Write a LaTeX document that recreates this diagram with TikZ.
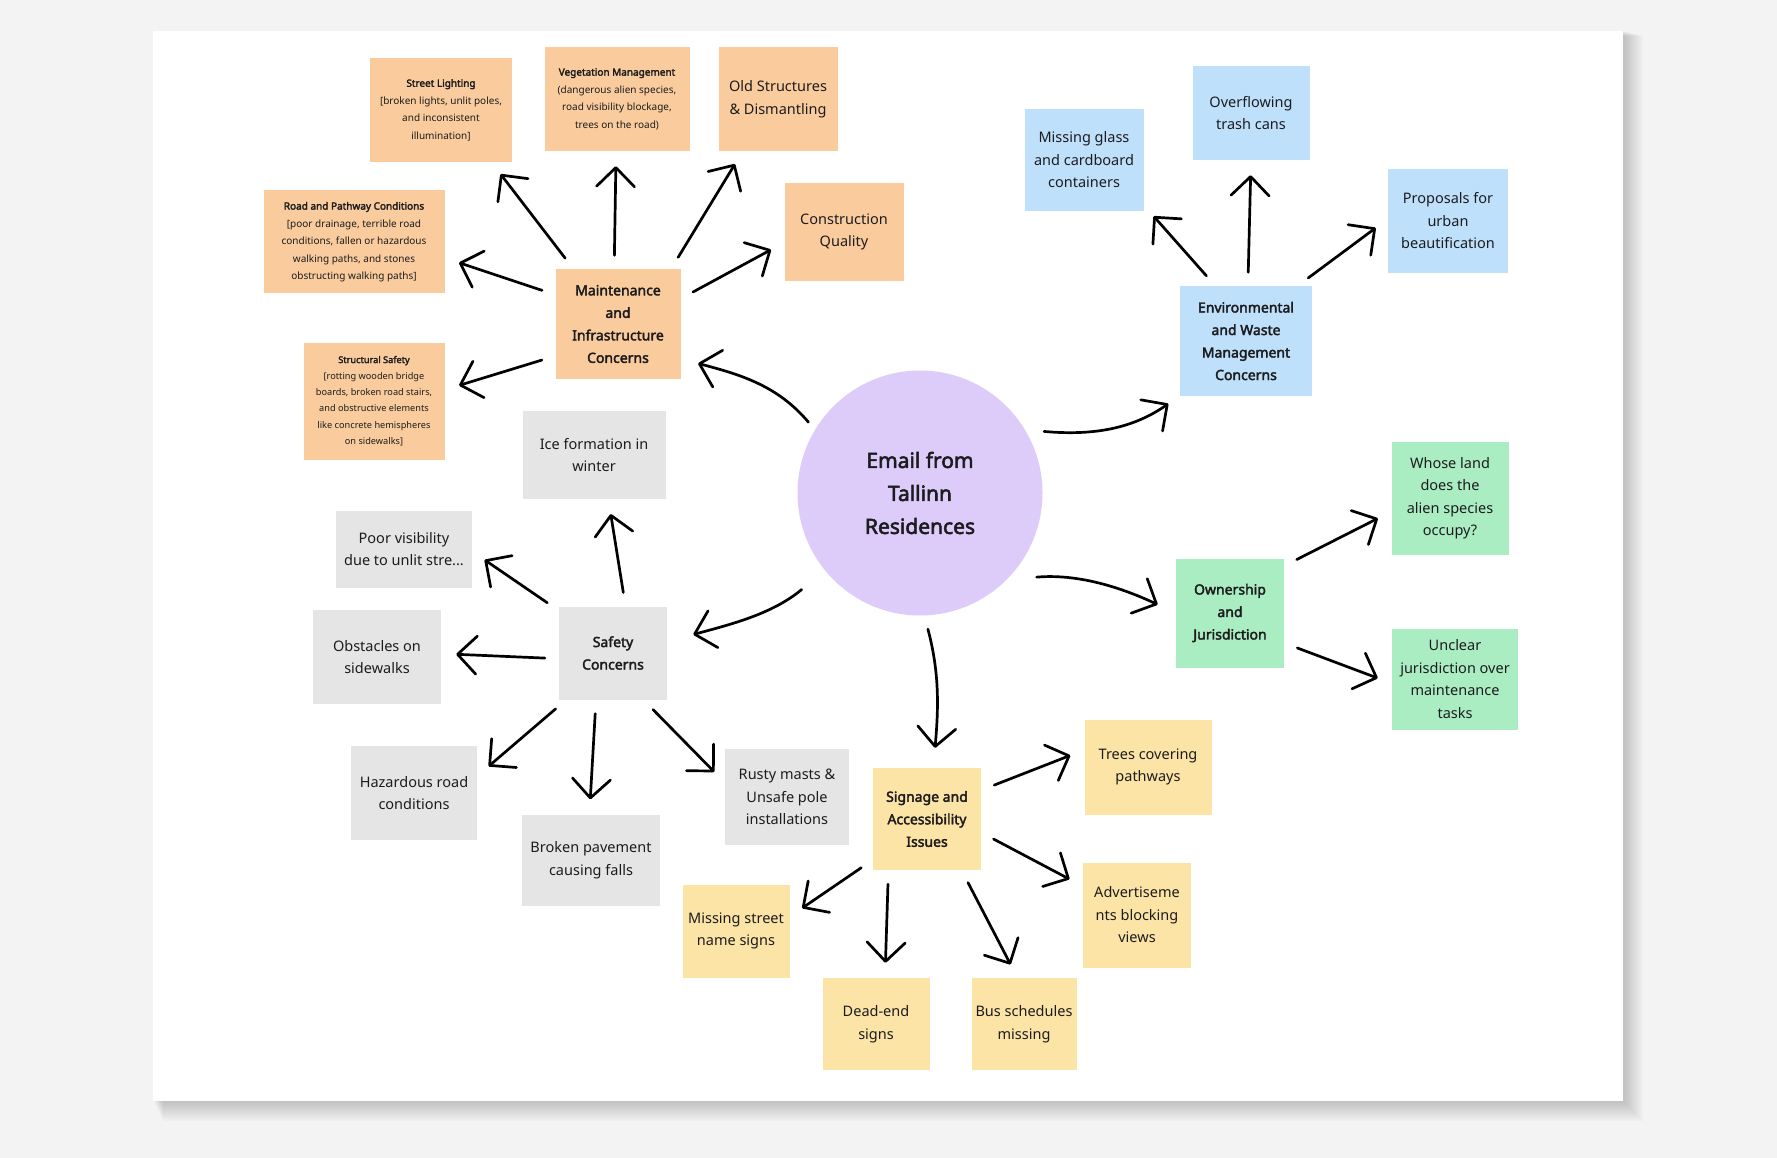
\documentclass[tikz,border=0pt]{standalone}
\usepackage{fontspec}
\setmainfont{Noto Sans}[AutoFakeBold=2.6]
\usepackage{tikz}
\usetikzlibrary{arrows.meta}

\definecolor{bgpage}{RGB}{243,243,243}
\definecolor{ink}{RGB}{28,28,30}
\definecolor{peach}{RGB}{250,204,157}
\definecolor{skyblue}{RGB}{191,224,251}
\definecolor{paleGrey}{RGB}{229,229,229}
\definecolor{butter}{RGB}{252,227,166}
\definecolor{mint}{RGB}{171,237,194}
\definecolor{lilac}{RGB}{221,204,250}

\newcommand{\leaftxt}{\fontsize{14.5}{22.5}\selectfont}
\newcommand{\headtxt}{\fontsize{14}{22.5}\selectfont\bfseries}
\newcommand{\smalltxt}{\fontsize{10}{17.5}\selectfont}
\newcommand{\tinytxt}{\fontsize{9.2}{16.3}\selectfont}
\newcommand{\mailtxt}{\fontsize{21}{33}\selectfont\bfseries}

\begin{document}
\begin{tikzpicture}[line cap=round,line join=round,>={Straight Barb[length=19pt,width=38pt,round]},x=1pt,y=1pt,
  sticky/.style={rectangle,inner sep=0pt,align=center,text=ink},
  orangenote/.style={sticky,fill=peach},
  bluenote/.style={sticky,fill=skyblue},
  greynote/.style={sticky,fill=paleGrey,font=\leaftxt},
  yellownote/.style={sticky,fill=butter,font=\leaftxt},
  greennote/.style={sticky,fill=mint,font=\leaftxt},
  arr/.style={->,draw=black,line width=2.7pt,shorten <=14pt,shorten >=15pt}]

\fill[bgpage] (0,0) rectangle (1777,-1158);
\foreach \d in {1,...,10}
  \fill[black,opacity=0.02] (153+\d,-31-0.5*\d) rectangle (1623+2*\d,-1101-2*\d);
\fill[white] (153,-31) rectangle (1623,-1101);

\node[circle,fill=lilac,minimum size=245pt,inner sep=0pt,align=center,text=ink,font=\mailtxt] (mail) at (920,-493) {Email from\\Tallinn\\Residences};

\node[orangenote,minimum width=125pt,minimum height=109pt,font=\headtxt] (maint) at (618,-324) {Maintenance\\and\\Infrastructure\\Concerns};
\node[orangenote,minimum width=142pt,minimum height=104pt,font=\smalltxt] (light) at (441,-110) {\textbf{Street Lighting}\\{[}broken lights, unlit poles,\\and inconsistent\\illumination]};
\node[orangenote,minimum width=145pt,minimum height=104pt,font=\smalltxt] (veg) at (617,-99) {\textbf{Vegetation Management}\\(dangerous alien species,\\road visibility blockage,\\trees on the road)};
\node[orangenote,minimum width=119pt,minimum height=104pt,font=\leaftxt] (old) at (778,-99) {Old Structures\\\& Dismantling};
\node[orangenote,minimum width=119pt,minimum height=98pt,font=\leaftxt] (constr) at (844,-232) {Construction\\Quality};
\node[orangenote,minimum width=181pt,minimum height=103pt,font=\smalltxt] (road) at (354,-242) {\textbf{Road and Pathway Conditions}\\{[}poor drainage, terrible road\\conditions, fallen or hazardous\\walking paths, and stones\\obstructing walking paths]};
\node[orangenote,minimum width=141pt,minimum height=117pt,font=\tinytxt] (struct) at (374,-401) {\textbf{Structural Safety}\\{[}rotting wooden bridge\\boards, broken road stairs,\\and obstructive elements\\like concrete hemispheres\\on sidewalks]};

\node[greynote,minimum width=108pt,minimum height=93pt,font=\headtxt] (safety) at (613,-653) {Safety\\Concerns};
\node[greynote,minimum width=143pt,minimum height=88pt] (ice) at (594,-455) {Ice formation in\\winter};
\node[greynote,minimum width=136pt,minimum height=77pt] (poor) at (404,-549) {Poor visibility\\due to unlit stre...};
\node[greynote,minimum width=128pt,minimum height=94pt] (obst) at (377,-657) {Obstacles on\\sidewalks};
\node[greynote,minimum width=126pt,minimum height=94pt] (hazard) at (414,-793) {Hazardous road\\conditions};
\node[greynote,minimum width=138pt,minimum height=91pt] (broken) at (591,-860) {Broken pavement\\causing falls};
\node[greynote,minimum width=124pt,minimum height=96pt] (rusty) at (787,-797) {Rusty masts \&\\Unsafe pole\\installations};

\node[yellownote,minimum width=108pt,minimum height=102pt,font=\headtxt] (sign) at (927,-819) {Signage and\\Accessibility\\Issues};
\node[yellownote,minimum width=107pt,minimum height=93pt] (nosign) at (736,-931) {Missing street\\name signs};
\node[yellownote,minimum width=107pt,minimum height=92pt] (dead) at (876,-1024) {Dead-end\\signs};
\node[yellownote,minimum width=105pt,minimum height=92pt] (bus) at (1024,-1024) {Bus schedules\\missing};
\node[yellownote,minimum width=127pt,minimum height=95pt] (trees) at (1148,-767) {Trees covering\\pathways};
\node[yellownote,minimum width=108pt,minimum height=105pt] (adv) at (1137,-915) {Advertiseme\\nts blocking\\views};

\node[bluenote,minimum width=132pt,minimum height=109pt,font=\headtxt] (env) at (1246,-341) {Environmental\\and Waste\\Management\\Concerns};
\node[bluenote,minimum width=119pt,minimum height=102pt,font=\leaftxt] (glass) at (1084,-160) {Missing glass\\and cardboard\\containers};
\node[bluenote,minimum width=117pt,minimum height=94pt,font=\leaftxt] (trash) at (1251,-113) {Overflowing\\trash cans};
\node[bluenote,minimum width=120pt,minimum height=104pt,font=\leaftxt] (beauty) at (1448,-221) {Proposals for\\urban\\beautification};

\node[greennote,minimum width=108pt,minimum height=109pt,font=\headtxt] (own) at (1230,-613) {Ownership\\and\\Jurisdiction};
\node[greennote,minimum width=117pt,minimum height=113pt] (land) at (1450,-498) {Whose land\\does the\\alien species\\occupy?};
\node[greennote,minimum width=126pt,minimum height=101pt] (unclear) at (1455,-679) {Unclear\\jurisdiction over\\maintenance\\tasks};

\draw[arr,shorten <=10pt,shorten >=18pt] (mail.149) to[out=130,in=-15] (maint.-29);
\draw[arr,shorten <=19pt,shorten >=14pt] (mail.31) to[out=-5,in=-145] (env.south west);
\draw[arr,shorten <=30pt,shorten >=20pt] (mail.-45) to[out=5,in=155] (own.west);
\draw[arr,shorten <=14pt,shorten >=20pt] (mail.-88) to[out=-75,in=85] (sign.83);
\draw[arr,shorten <=30pt,shorten >=27pt] (mail.-141) to[out=-140,in=15] (safety.12);

\draw[arr] (maint.129) -- (light.-46);
\draw[arr] (maint.94) -- (veg.-91);
\draw[arr] (maint.46) -- (old.-124);
\draw[arr] (maint.22) -- (constr.-170);
\draw[arr] (maint.155) -- (road.-10);
\draw[arr] (maint.-153) -- (struct.9);

\draw[arr] (env.119) -- (glass.-37);
\draw[arr] (env.88) -- (trash.-90);
\draw[arr] (env.47) -- (beauty.178);

\draw[arr] (own.41) -- (land.-167);
\draw[arr] (own.-29) -- (unclear.-176);

\draw[arr] (safety.75) -- (ice.-72);
\draw[arr] (safety.142) -- (poor.-2);
\draw[arr] (safety.-174) -- (obst.3);
\draw[arr] (safety.-135) -- (hazard.15);
\draw[arr] (safety.-110) -- (broken.92);
\draw[arr] (safety.-57) -- (rusty.167);

\draw[arr] (sign.28) -- (trees.165);
\draw[arr] (sign.-14) -- (adv.152);
\draw[arr] (sign.-143) -- (nosign.15);
\draw[arr] (sign.-127) -- (dead.79);
\draw[arr] (sign.-56) -- (bus.98);

\end{tikzpicture}
\end{document}
